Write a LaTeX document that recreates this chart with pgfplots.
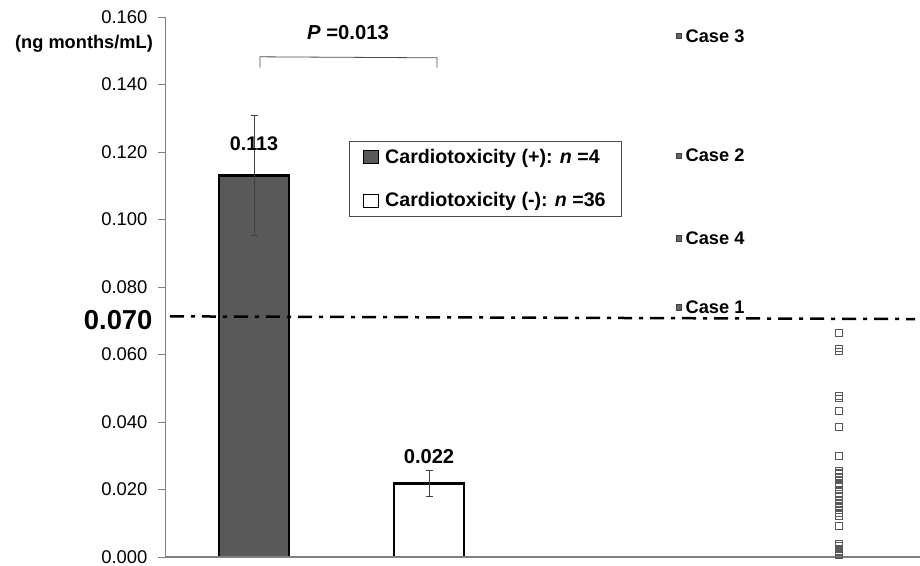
\documentclass[border=0pt]{standalone}
\usepackage{pgfplots}
\pgfplotsset{compat=1.18}
\usepackage{fontspec}
\setmainfont{Liberation Sans}
\definecolor{barfill}{HTML}{595959}
\definecolor{axgray}{HTML}{808080}
\begin{document}
\begin{tikzpicture}[x=1bp,y=1bp]
\useasboundingbox (-165,-9) rectangle (755,557);
\begin{axis}[
  at={(0,0)}, anchor=south west,
  scale only axis, width=755bp, height=540bp,
  xmin=0, xmax=755, ymin=0, ymax=0.16,
  axis x line=none, axis y line*=left,
  y axis line style={axgray, line width=0.9bp},
  ytick={0,0.02,...,0.161},
  major tick length=7bp, tick align=outside,
  ytick style={axgray, line width=0.9bp},
  yticklabel style={/pgf/number format/fixed, /pgf/number format/fixed zerofill, /pgf/number format/precision=3, /pgf/number format/assume math mode=true},
  yticklabel style={font=\fontsize{18.5}{21}\selectfont, xshift=-7bp, inner ysep=1bp},
  clip=false,
  legend style={at={(axis cs:184,0.1234)}, anchor=north west, draw=black!70, line width=0.8bp,
    font=\bfseries\fontsize{19.7}{22}\selectfont, row sep=24bp, inner xsep=14bp, inner ysep=6bp,
    cells={anchor=west}},
]
% bars
\addplot[ybar, bar width=70, fill=barfill, draw=black, line width=2.8bp,
  legend image code/.code={\draw[fill=barfill, draw=black, line width=0.8bp] (0bp,-6.5bp) rectangle (15bp,6.5bp);}]
  coordinates {(89,0.113)};
\addlegendentry{\hspace{4bp}Cardiotoxicity (+): \textit{n} =4}
\addplot[ybar, bar width=70, fill=white, draw=black, line width=2.8bp,
  legend image code/.code={\draw[fill=white, draw=black, line width=0.8bp] (0bp,-6.5bp) rectangle (15bp,6.5bp);}]
  coordinates {(264,0.0218)};
\addlegendentry{\hspace{4bp}Cardiotoxicity (-): \textit{n} =36}
% error bars
\addplot[draw=none, forget plot, error bars/.cd, y dir=both, y explicit,
  error bar style={black!75, line width=0.8bp},
  error mark options={rotate=90, mark size=3.5bp, black!75, line width=0.8bp}]
  coordinates {(89,0.113) +- (0,0.0177) (264,0.0218) +- (0,0.0039)};
% threshold line
\addplot[black, line width=2.5bp, dash pattern=on 14bp off 7bp on 4bp off 7bp, forget plot]
  coordinates {(5,0.0713) (750,0.0705)};
% x axis line
\addplot[axgray, line width=1.5bp, forget plot] coordinates {(0,0) (755,0)};
% cases
\addplot[only marks, mark=square*, mark size=2.7bp, mark options={fill=black!60, draw=black!75, line width=0.6bp},
  point meta=explicit symbolic, nodes near coords,
  nodes near coords style={anchor=west, xshift=3bp, font=\bfseries\fontsize{18.3}{21}\selectfont, text=black},
  forget plot]
  coordinates {(514,0.1544) [Case 3] (514,0.1189) [Case 2] (514,0.0944) [Case 4] (514,0.0740) [Case 1]};
% individual values of the negative group
\addplot[only marks, mark=square, mark size=3.4bp, mark options={draw=black!65, line width=0.9bp}, forget plot]
  table[row sep=\\] {
x y\\
674 0.0663\\ 674 0.0618\\ 674 0.0609\\ 674 0.0476\\ 674 0.0470\\ 674 0.0432\\
674 0.0385\\ 674 0.0299\\ 674 0.0254\\ 674 0.0245\\ 674 0.0236\\ 674 0.0228\\
674 0.0220\\ 674 0.0212\\ 674 0.0200\\ 674 0.0186\\ 674 0.0178\\ 674 0.0170\\
674 0.0160\\ 674 0.0152\\ 674 0.0145\\ 674 0.0138\\ 674 0.0130\\ 674 0.0120\\
674 0.0092\\ 674 0.0040\\ 674 0.0032\\ 674 0.0025\\ 674 0.0018\\ 674 0.0010\\
674 0.0005\\ 674 0.0250\\ 674 0.0215\\ 674 0.0182\\ 674 0.0148\\ 674 0.0015\\
};
% value labels
\node[font=\bfseries\fontsize{19.8}{22}\selectfont] at (axis cs:89,0.1225) {0.113};
\node[font=\bfseries\fontsize{20.2}{23}\selectfont] at (axis cs:264,0.0299) {0.022};
% significance bracket
\draw[black!70, line width=0.8bp] (axis cs:95,0.1450) -- (axis cs:95,0.1482) -- (axis cs:272,0.1479) -- (axis cs:272,0.1450);
\node[font=\bfseries\fontsize{20.3}{23}\selectfont] at (axis cs:183,0.1553) {\textit{P} =0.013};
% threshold label and unit
\node[anchor=east, font=\bfseries\fontsize{27.5}{30}\selectfont] at (axis cs:-9,0.0703) {0.070};
\node[font=\bfseries\fontsize{18.3}{21}\selectfont] at (axis cs:-81,0.1519) {(ng months/mL)};
\end{axis}
\end{tikzpicture}
\end{document}
